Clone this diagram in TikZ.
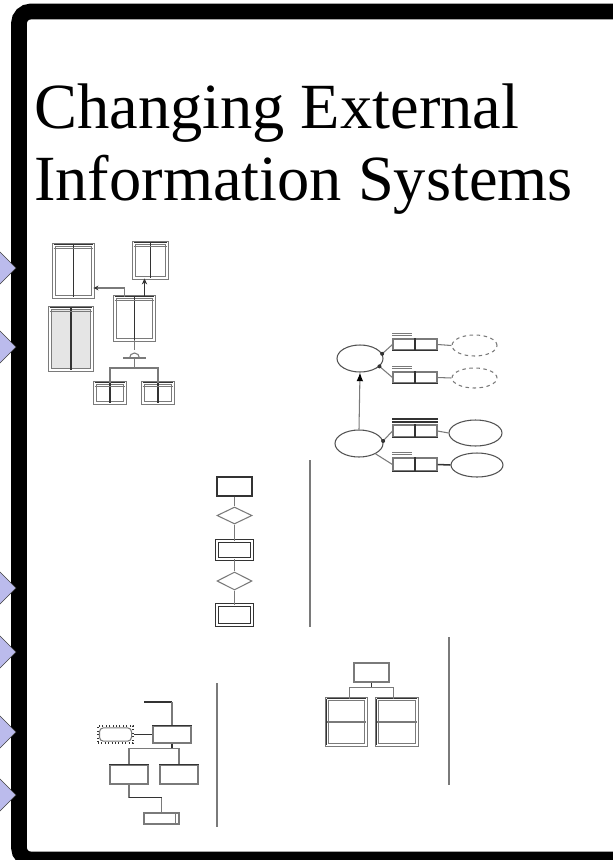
\documentclass[tikz,border=0pt]{standalone}
\usepackage{fontspec}
\setmainfont{Liberation Serif}
\usepackage{xcolor}
\usetikzlibrary{arrows.meta,positioning,shapes.geometric}
\definecolor{tiplav}{HTML}{BBBBEC}
\definecolor{linegray}{HTML}{7A7A7A}
\definecolor{inkdark}{HTML}{333333}
\tikzset{
  tblbox/.style={draw=linegray,double=white,double distance=0.045cm,inner sep=0pt,line width=0.75pt},
  entbox/.style={draw=linegray,inner sep=0pt,line width=0.9pt},
  ovalbox/.style={ellipse,draw=inkdark!85,inner sep=0pt,line width=0.9pt},
  dashoval/.style={ellipse,draw=linegray,dashed,inner sep=0pt,line width=0.9pt},
  relbox/.style={diamond,draw=linegray,inner sep=0pt,line width=0.9pt},
  lnk/.style={draw=linegray,line width=0.9pt},
  dklnk/.style={draw=inkdark,line width=1.1pt},
  sepline/.style={draw=linegray,line width=1.1pt},
  dotend/.style={fill=inkdark},
}
\begin{document}
\begin{tikzpicture}[x=0.03cm,y=-0.03cm]
  \useasboundingbox (0,0) rectangle (613,860);
  \begin{scope}
    \clip (0,0) rectangle (613,860);
    \fill[white] (0,0) rectangle (613,860);
    \draw[line width=0.47cm,rounded corners=0.35cm] (19,11.5) rectangle (660,859.5);
    \foreach \ty in {268,347,588,652,732,795}
      \draw[fill=tiplav,draw=black!75,line width=0.5pt] (-2,\ty-18) -- (16,\ty) -- (-2,\ty+18) -- cycle;
  \end{scope}
  \node[anchor=base west,inner sep=0pt,font=\fontsize{55}{66}\selectfont] (ttlA) at (34,128) {Changing External};
  \node[anchor=base west,inner sep=0pt,font=\fontsize{55}{66}\selectfont] (ttlB) at (34,200) {Information Systems};

  \begin{scope}
    \node[tblbox,minimum width=1.17cm,minimum height=1.56cm] (entA) at (73.5,271) {};
    \node[tblbox,minimum width=0.99cm,minimum height=1.05cm] (entB) at (150.5,260.5) {};
    \node[tblbox,minimum width=1.17cm,minimum height=1.29cm] (entC) at (134.5,318.5) {};
    \node[tblbox,fill=black!10,minimum width=1.26cm,minimum height=1.86cm] (entD) at (71,339) {};
    \node[tblbox,minimum width=0.9cm,minimum height=0.6cm] (entE) at (110,393) {};
    \node[tblbox,minimum width=0.9cm,minimum height=0.6cm] (entF) at (158,393) {};
    \foreach \n in {entA,entB,entC,entD,entE,entF} {
      \draw[dklnk] (\n.north) -- (\n.south);
      \draw[dklnk] (\n.north west) -- (\n.north east);
      \draw[lnk,line width=0.6pt] ([yshift=-0.12cm]\n.north west) -- ([yshift=-0.12cm]\n.north east);
    }
    \draw[lnk,-{Stealth[length=0.15cm,width=0.14cm,color=inkdark]}] ([xshift=-0.3cm]entC.north) |- ([yshift=-0.51cm]entA.east);
    \draw[dklnk,line width=1.6pt,-{Stealth[length=0.18cm,width=0.16cm]}] ([xshift=0.3cm]entC.north) -- ([xshift=0.3cm]entC.north |- entB.south);
    \draw[lnk] (entC.south) -- ++(0,10);
    \draw[lnk] (129.5,358) arc[start angle=180,end angle=0,radius=0.15cm];
    \draw[lnk] (123,358) -- (146,358);
    \draw[lnk] (134.5,358) -- (134.5,368) coordinate (subJ);
    \draw[lnk] (entE.north) -- (entE.north |- subJ) -- (entF.north |- subJ) -- (entF.north);
  \end{scope}

  \begin{scope}
    \node[ovalbox,minimum width=1.38cm,minimum height=0.81cm] (ellG1) at (360,358.5) {};
    \node[ovalbox,minimum width=1.44cm,minimum height=0.81cm] (ellG2) at (359,443.5) {};
    \node[entbox,minimum width=1.32cm,minimum height=0.33cm] (relR1) at (415,344.5) {};
    \node[entbox,minimum width=1.32cm,minimum height=0.33cm] (relR2) at (415,377.5) {};
    \node[entbox,minimum width=1.32cm,minimum height=0.36cm] (relR3) at (415,431) {};
    \node[entbox,minimum width=1.32cm,minimum height=0.39cm] (relR4) at (415,464.5) {};
    \foreach \n in {relR1,relR2,relR3,relR4} {
      \draw[dklnk] (\n.north) -- (\n.south);
      \draw[dklnk] (\n.south west) -- (\n.south east);
    }
    \draw[lnk] ([yshift=0.09cm]relR1.north west) -- +(0.6cm,0);
    \draw[lnk] ([yshift=0.16cm]relR1.north west) -- +(0.6cm,0);
    \draw[lnk] ([yshift=0.09cm]relR2.north west) -- +(0.6cm,0);
    \draw[lnk] ([yshift=0.16cm]relR2.north west) -- +(0.6cm,0);
    \draw[dklnk,line width=1.4pt] ([yshift=0.08cm]relR3.north west) -- ([yshift=0.08cm]relR3.north east);
    \draw[dklnk,line width=1.4pt] ([yshift=0.16cm]relR3.north west) -- ([yshift=0.16cm]relR3.north east);
    \draw[lnk] ([yshift=0.09cm]relR4.north west) -- +(0.6cm,0);
    \draw[lnk] ([yshift=0.16cm]relR4.north west) -- +(0.6cm,0);
    \node[dashoval,minimum width=1.35cm,minimum height=0.63cm] (dshA) at (474.5,345.5) {};
    \node[dashoval,minimum width=1.35cm,minimum height=0.6cm] (dshB) at (474.5,378) {};
    \node[ovalbox,minimum width=1.59cm,minimum height=0.78cm] (ellE3) at (475.5,433) {};
    \node[ovalbox,minimum width=1.56cm,minimum height=0.72cm] (ellE4) at (477,465) {};
    \draw[lnk,-{Latex[length=0.26cm,width=0.2cm,color=black]}] (ellG2.north) -- (ellG1.south);
    \draw[lnk] (ellG1.12) -- (relR1.west);
    \draw[lnk] (ellG1.-22) -- (relR2.west);
    \draw[lnk] (ellG2.6) -- (relR3.west);
    \draw[lnk] (ellG2.-32) -- (relR4.west);
    \fill[dotend] (ellG1.12) circle (0.06cm);
    \fill[dotend] (ellG1.-22) circle (0.06cm);
    \fill[dotend] (ellG2.6) circle (0.06cm);
    \draw[lnk] (relR1.east) -- (dshA.west);
    \draw[lnk] (relR2.east) -- (dshB.west);
    \draw[lnk] (relR3.east) -- (ellE3.west);
    \draw[dklnk,line width=1.3pt] (relR4.east) -- (ellE4.west);
  \end{scope}

  \begin{scope}
    \node[entbox,draw=inkdark,minimum width=1.05cm,minimum height=0.57cm] (rctH1) at (234.5,486.5) {};
    \node[relbox,minimum width=1.05cm,minimum height=0.51cm] (dmdD1) at (234.5,515.5) {};
    \node[tblbox,draw=inkdark,double distance=0.06cm,minimum width=1.05cm,minimum height=0.54cm] (rctH2) at (234.5,550) {};
    \node[relbox,minimum width=1.05cm,minimum height=0.54cm] (dmdD2) at (234.5,581) {};
    \node[tblbox,draw=inkdark,double distance=0.06cm,minimum width=1.05cm,minimum height=0.6cm] (rctH3) at (234.5,615) {};
    \draw[lnk] (rctH1.south) -- (dmdD1.north);
    \draw[lnk] (dmdD1.south) -- (rctH2.north);
    \draw[lnk] (rctH2.south) -- (dmdD2.north);
    \draw[lnk] (dmdD2.south) -- (rctH3.north);
    \draw[sepline] (310,460) -- (310,627);
  \end{scope}

  \begin{scope}
    \node[entbox,minimum width=1.14cm,minimum height=0.51cm] (rctK1) at (172,734.5) {};
    \node[entbox,dotted,draw=inkdark,minimum width=1.05cm,minimum height=0.51cm] (rctK0) at (115.5,734.5) {};
    \draw[lnk,rounded corners=0.12cm] ([xshift=0.06cm,yshift=-0.07cm]rctK0.north west) rectangle ([xshift=-0.06cm,yshift=0.07cm]rctK0.south east);
    \node[entbox,minimum width=1.14cm,minimum height=0.57cm] (rctK2) at (129,774.5) {};
    \node[entbox,minimum width=1.14cm,minimum height=0.57cm] (rctK3) at (179,774.5) {};
    \node[entbox,minimum width=1.05cm,minimum height=0.33cm] (rctK4) at (161.5,818.5) {};
    \foreach \n in {rctK1,rctK2,rctK3} {
      \draw[dklnk] (\n.north west) -- (\n.north east);
    }
    \draw[lnk] ([xshift=-0.12cm]rctK4.north east) -- ([xshift=-0.12cm]rctK4.south east);
    \coordinate (topK) at (144,702);
    \draw[dklnk,line width=1.4pt] (topK) -- (rctK1.north |- topK);
    \draw[lnk] (rctK1.north |- topK) -- (rctK1.north);
    \draw[dklnk] (rctK0.east) -- (rctK1.west);
    \draw[dklnk] (rctK1.south) -- ++(0,5) coordinate (kJ);
    \draw[lnk] (rctK2.north) -- (rctK2.north |- kJ) -- (rctK3.north |- kJ) -- (rctK3.north);
    \draw[lnk] (rctK2.south) -- ++(0,13) coordinate (kB);
    \draw[dklnk] (kB) -- (rctK4.north |- kB);
    \draw[lnk] (rctK4.north |- kB) -- (rctK4.north);
    \draw[sepline] (217,683) -- (217,827);
  \end{scope}

  \begin{scope}
    \node[entbox,minimum width=1.05cm,minimum height=0.57cm] (rctL1) at (371.5,672.5) {};
    \node[tblbox,minimum width=1.17cm,minimum height=1.38cm] (tblL2) at (346.5,722) {};
    \node[tblbox,minimum width=1.2cm,minimum height=1.38cm] (tblL3) at (397,722) {};
    \foreach \n in {tblL2,tblL3} {
      \draw[dklnk] (\n.north west) -- (\n.north east);
      \draw[dklnk] (\n.north west) -- (\n.south west);
      \draw[lnk] (\n.west) -- (\n.east);
    }
    \draw[dklnk] (rctL1.south) -- ++(0,5) coordinate (lJ);
    \draw[lnk] ([xshift=0.1cm]tblL2.north) -- ([xshift=0.1cm]tblL2.north |- lJ) -- ([xshift=-0.1cm]tblL3.north |- lJ) -- ([xshift=-0.1cm]tblL3.north);
    \draw[sepline] (449,637) -- (449,785);
  \end{scope}
\end{tikzpicture}
\end{document}
